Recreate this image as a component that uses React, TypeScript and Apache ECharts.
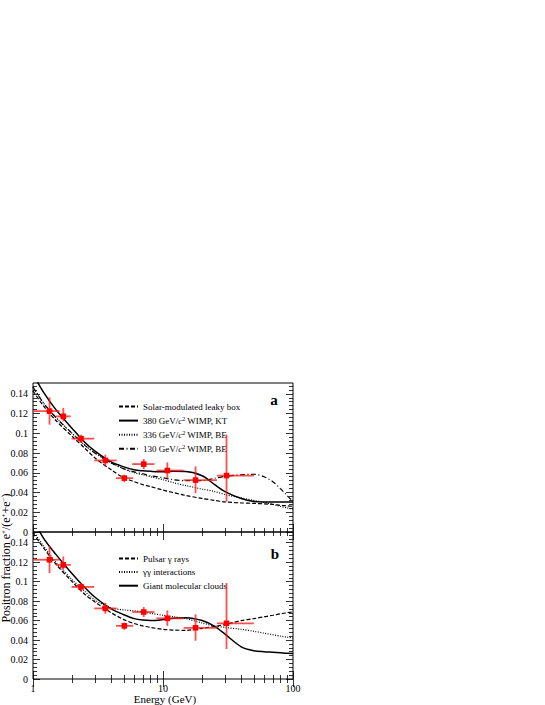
import { useEffect, useRef } from "react";
import * as echarts from "echarts";

// measured points (same HEAT data in both panels)
const energyMid = [1.34, 1.71, 2.34, 3.6, 5.04, 7.11, 10.8, 17.8, 30.8];
const energyLo = [0.95, 1.5, 1.98, 2.96, 4.35, 5.8, 8.9, 14.4, 26];
const energyHi = [1.6, 1.95, 2.96, 4.4, 5.9, 8.6, 14.4, 26, 50];
const fraction = [0.1225, 0.1172, 0.0946, 0.0725, 0.0546, 0.0688, 0.0623, 0.0526, 0.0572];
const fractionLo = [0.1088, 0.1121, 0.0902, 0.0671, 0.0505, 0.0637, 0.0546, 0.0393, 0.0308];
const fractionHi = [0.1365, 0.1258, 0.0986, 0.0783, 0.058, 0.0739, 0.0705, 0.0664, 0.0986];

// model curves sampled on a common energy grid
const curveE = [1, 1.2, 1.5, 2, 2.5, 3, 4, 5, 6, 7, 8, 10, 12, 15, 20, 25, 30, 40, 50, 60, 70, 80, 90, 100];
const leakyBox = [0.143, 0.128, 0.113, 0.097, 0.085, 0.075, 0.063, 0.055, 0.051, 0.048, 0.046, 0.0425, 0.04, 0.037, 0.034, 0.032, 0.0305, 0.0295, 0.029, 0.0285, 0.028, 0.027, 0.0265, 0.026];
const wimp380KT = [0.16, 0.142, 0.124, 0.105, 0.091, 0.082, 0.071, 0.066, 0.063, 0.062, 0.0615, 0.061, 0.0615, 0.0613, 0.057, 0.048, 0.041, 0.034, 0.031, 0.0305, 0.0305, 0.0305, 0.0305, 0.0305];
const wimp336BE = [0.147, 0.131, 0.116, 0.1, 0.088, 0.08, 0.07, 0.064, 0.06, 0.058, 0.056, 0.053, 0.05, 0.047, 0.0435, 0.041, 0.038, 0.0345, 0.032, 0.03, 0.028, 0.026, 0.0245, 0.023];
const wimp130BE = [0.147, 0.131, 0.116, 0.1, 0.088, 0.08, 0.07, 0.064, 0.061, 0.059, 0.057, 0.055, 0.053, 0.052, 0.052, 0.0545, 0.0565, 0.058, 0.0585, 0.056, 0.051, 0.044, 0.037, 0.031];
const pulsar = [0.15, 0.135, 0.118, 0.1, 0.087, 0.079, 0.068, 0.061, 0.057, 0.0545, 0.053, 0.051, 0.0503, 0.05, 0.052, 0.054, 0.056, 0.06, 0.062, 0.064, 0.0655, 0.067, 0.068, 0.069];
const gammaGamma = [0.152, 0.137, 0.12, 0.102, 0.09, 0.081, 0.073, 0.071, 0.07, 0.069, 0.0675, 0.0655, 0.064, 0.062, 0.0575, 0.0545, 0.053, 0.051, 0.049, 0.047, 0.0455, 0.044, 0.043, 0.042];
const molecularClouds = [0.165, 0.145, 0.128, 0.108, 0.094, 0.084, 0.072, 0.066, 0.062, 0.0605, 0.06, 0.061, 0.0625, 0.063, 0.06, 0.054, 0.046, 0.033, 0.029, 0.028, 0.0275, 0.027, 0.0265, 0.0263];

// ticks
const xMajor = [1, 10, 100];
const xMinor = [2, 3, 4, 5, 6, 7, 8, 9, 20, 30, 40, 50, 60, 70, 80, 90];
const yMajor = [0, 0.02, 0.04, 0.06, 0.08, 0.1, 0.12, 0.14];
const yMinor = [
  0.004, 0.008, 0.012, 0.016, 0.024, 0.028, 0.032, 0.036, 0.044, 0.048, 0.052, 0.056,
  0.064, 0.068, 0.072, 0.076, 0.084, 0.088, 0.092, 0.096, 0.104, 0.108, 0.112, 0.116,
  0.124, 0.128, 0.132, 0.136, 0.144, 0.148,
];

const FONT = "Liberation Serif";
const Y_MAX = 0.151;

const namesA = [
  "Solar-modulated leaky box",
  "380 GeV/c2 WIMP, KT",
  "336 GeV/c2 WIMP, BE",
  "130 GeV/c2 WIMP, BE",
];
const namesB = ["Pulsar γ rays", "γγ interactions", "Giant molecular clouds"];

const DASHED = [4, 2];
const DOTTED = [1, 1.5];
const DASHDOT = [5, 2.5, 1, 2.5];

const xAxes = (gridIndex: number, labels: boolean) => {
  const base = {
    type: "log",
    logBase: 10,
    gridIndex,
    min: 1,
    max: 100,
    axisLine: { show: false },
    splitLine: { show: false },
    minorSplitLine: { show: false },
  };
  const tick = (values: number[], length: number) => ({
    show: true,
    inside: true,
    length,
    customValues: values,
    lineStyle: { color: "#000", width: 0.8 },
  });
  return [
    {
      ...base,
      position: "bottom",
      axisTick: tick(xMajor, 8),
      axisLabel: {
        show: labels,
        customValues: xMajor,
        margin: 4,
        fontFamily: FONT,
        fontSize: 10,
        color: "#000",
      },
    },
    { ...base, position: "bottom", axisTick: tick(xMinor, 4), axisLabel: { show: false } },
    { ...base, position: "top", axisTick: tick(xMajor, 8), axisLabel: { show: false } },
    { ...base, position: "top", axisTick: tick(xMinor, 4), axisLabel: { show: false } },
  ];
};

const yAxes = (gridIndex: number) => {
  const base = {
    type: "value",
    gridIndex,
    min: 0,
    max: Y_MAX,
    axisLine: { show: false },
    splitLine: { show: false },
  };
  const tick = (values: number[], length: number) => ({
    show: true,
    inside: true,
    length,
    customValues: values,
    lineStyle: { color: "#000", width: 0.8 },
  });
  return [
    {
      ...base,
      position: "left",
      axisTick: tick(yMajor, 7),
      axisLabel: {
        show: true,
        customValues: yMajor,
        margin: 5,
        fontFamily: FONT,
        fontSize: 10,
        color: "#000",
        formatter: (v: number) => String(Number(v.toFixed(3))),
      },
    },
    { ...base, position: "left", axisTick: tick(yMinor, 4), axisLabel: { show: false } },
    { ...base, position: "right", axisTick: tick(yMajor, 7), axisLabel: { show: false } },
    { ...base, position: "right", axisTick: tick(yMinor, 4), axisLabel: { show: false } },
  ];
};

const pairs = (values: number[]) => curveE.map((e, i) => [e, values[i]]);

const curve = (name: string, values: number[], type: any, grid: number, width = 1.2) => ({
  name,
  type: "line",
  xAxisIndex: grid * 4,
  yAxisIndex: grid * 4,
  data: pairs(values),
  smooth: 0.3,
  symbol: "none",
  clip: true,
  lineStyle: { color: "#000", width, type },
  itemStyle: { color: "#000" },
  z: 3,
});

const pointData = energyMid.map((e, i) => [
  e,
  fraction[i],
  energyLo[i],
  energyHi[i],
  fractionLo[i],
  fractionHi[i],
]);

const points = (grid: number) => ({
  type: "custom",
  xAxisIndex: grid * 4,
  yAxisIndex: grid * 4,
  clip: true,
  z: 5,
  encode: { x: 0, y: 1 },
  data: pointData,
  renderItem: (_params: any, api: any) => {
    const c = api.coord([api.value(0), api.value(1)]);
    const l = api.coord([api.value(2), api.value(1)]);
    const r = api.coord([api.value(3), api.value(1)]);
    const lo = api.coord([api.value(0), api.value(4)]);
    const hi = api.coord([api.value(0), api.value(5)]);
    const bar = { stroke: "rgba(255,20,20,0.75)", lineWidth: 1.8 };
    return {
      type: "group",
      children: [
        { type: "line", shape: { x1: l[0], y1: c[1], x2: r[0], y2: c[1] }, style: bar },
        { type: "line", shape: { x1: c[0], y1: hi[1], x2: c[0], y2: lo[1] }, style: bar },
        {
          type: "rect",
          shape: { x: c[0] - 2.8, y: c[1] - 2.8, width: 5.6, height: 5.6 },
          style: { fill: "#ff0000" },
        },
      ],
    };
  },
});

const legendFormatter = (name: string) =>
  name.replace("/c2", "/{i|c}{sup|2}");

const legendRich = {
  i: { fontStyle: "italic", fontFamily: FONT, fontSize: 9, color: "#000" },
  sup: { fontFamily: FONT, fontSize: 6, color: "#000", verticalAlign: "top", padding: [0, 0, 4, 0] },
};

const legend = (names: string[], top: number) => ({
  data: names,
  orient: "vertical",
  left: 113,
  top,
  itemWidth: 19,
  itemHeight: 8,
  itemGap: 4.6,
  selectedMode: false,
  // hide the circle that line series put in their legend icon
  itemStyle: { opacity: 0, borderWidth: 0 },
  textStyle: { fontFamily: FONT, fontSize: 9, color: "#000", rich: legendRich },
  formatter: legendFormatter,
});

export default function App() {
  const ref = useRef<HTMLDivElement | null>(null);

  useEffect(() => {
    if (!ref.current) return;
    const chart = echarts.init(ref.current, undefined, { renderer: "svg" });

    chart.setOption({
      animation: false,
      backgroundColor: "#fff",
      textStyle: { fontFamily: FONT },
      grid: [
        { left: 33, top: 383, width: 260, height: 149, show: true, borderColor: "#000", borderWidth: 1, backgroundColor: "transparent" },
        { left: 33, top: 532, width: 260, height: 147, show: true, borderColor: "#000", borderWidth: 1, backgroundColor: "transparent" },
      ],
      xAxis: [...xAxes(0, false), ...xAxes(1, true)],
      yAxis: [...yAxes(0), ...yAxes(1)],
      legend: [legend(namesA, 397), legend(namesB, 549)],
      series: [
        curve(namesA[0], leakyBox, DASHED, 0),
        curve(namesA[1], wimp380KT, "solid", 0, 1.5),
        curve(namesA[2], wimp336BE, DOTTED, 0),
        curve(namesA[3], wimp130BE, DASHDOT, 0),
        points(0),
        curve(namesB[0], pulsar, DASHED, 1),
        curve(namesB[1], gammaGamma, DOTTED, 1),
        curve(namesB[2], molecularClouds, "solid", 1, 1.5),
        points(1),
      ],
      graphic: [
        {
          type: "text",
          x: 6,
          y: 558,
          rotation: Math.PI / 2,
          style: {
            text: "Positron fraction e{sup|+}/(e{sup|+}+e{sup|−})",
            fontFamily: FONT,
            fontSize: 12,
            fill: "#000",
            align: "center",
            verticalAlign: "middle",
            rich: {
              sup: { fontFamily: FONT, fontSize: 7, fill: "#000", verticalAlign: "top", padding: [0, 0, 5, 0] },
            },
          },
        },
        {
          type: "text",
          x: 165,
          y: 698.5,
          style: {
            text: "Energy (GeV)",
            fontFamily: FONT,
            fontSize: 11,
            fill: "#000",
            align: "center",
            verticalAlign: "middle",
          },
        },
        {
          type: "text",
          x: 274,
          y: 400,
          style: { text: "a", fontFamily: FONT, fontSize: 15, fontWeight: "bold", fill: "#000", align: "center", verticalAlign: "middle" },
        },
        {
          type: "text",
          x: 275,
          y: 554,
          style: { text: "b", fontFamily: FONT, fontSize: 15, fontWeight: "bold", fill: "#000", align: "center", verticalAlign: "middle" },
        },
      ],
    });

    return () => chart.dispose();
  }, []);

  return (
    <div
      ref={ref}
      style={{ position: "fixed", left: 0, top: 0, width: 545, height: 705, background: "#fff" }}
    />
  );
}
